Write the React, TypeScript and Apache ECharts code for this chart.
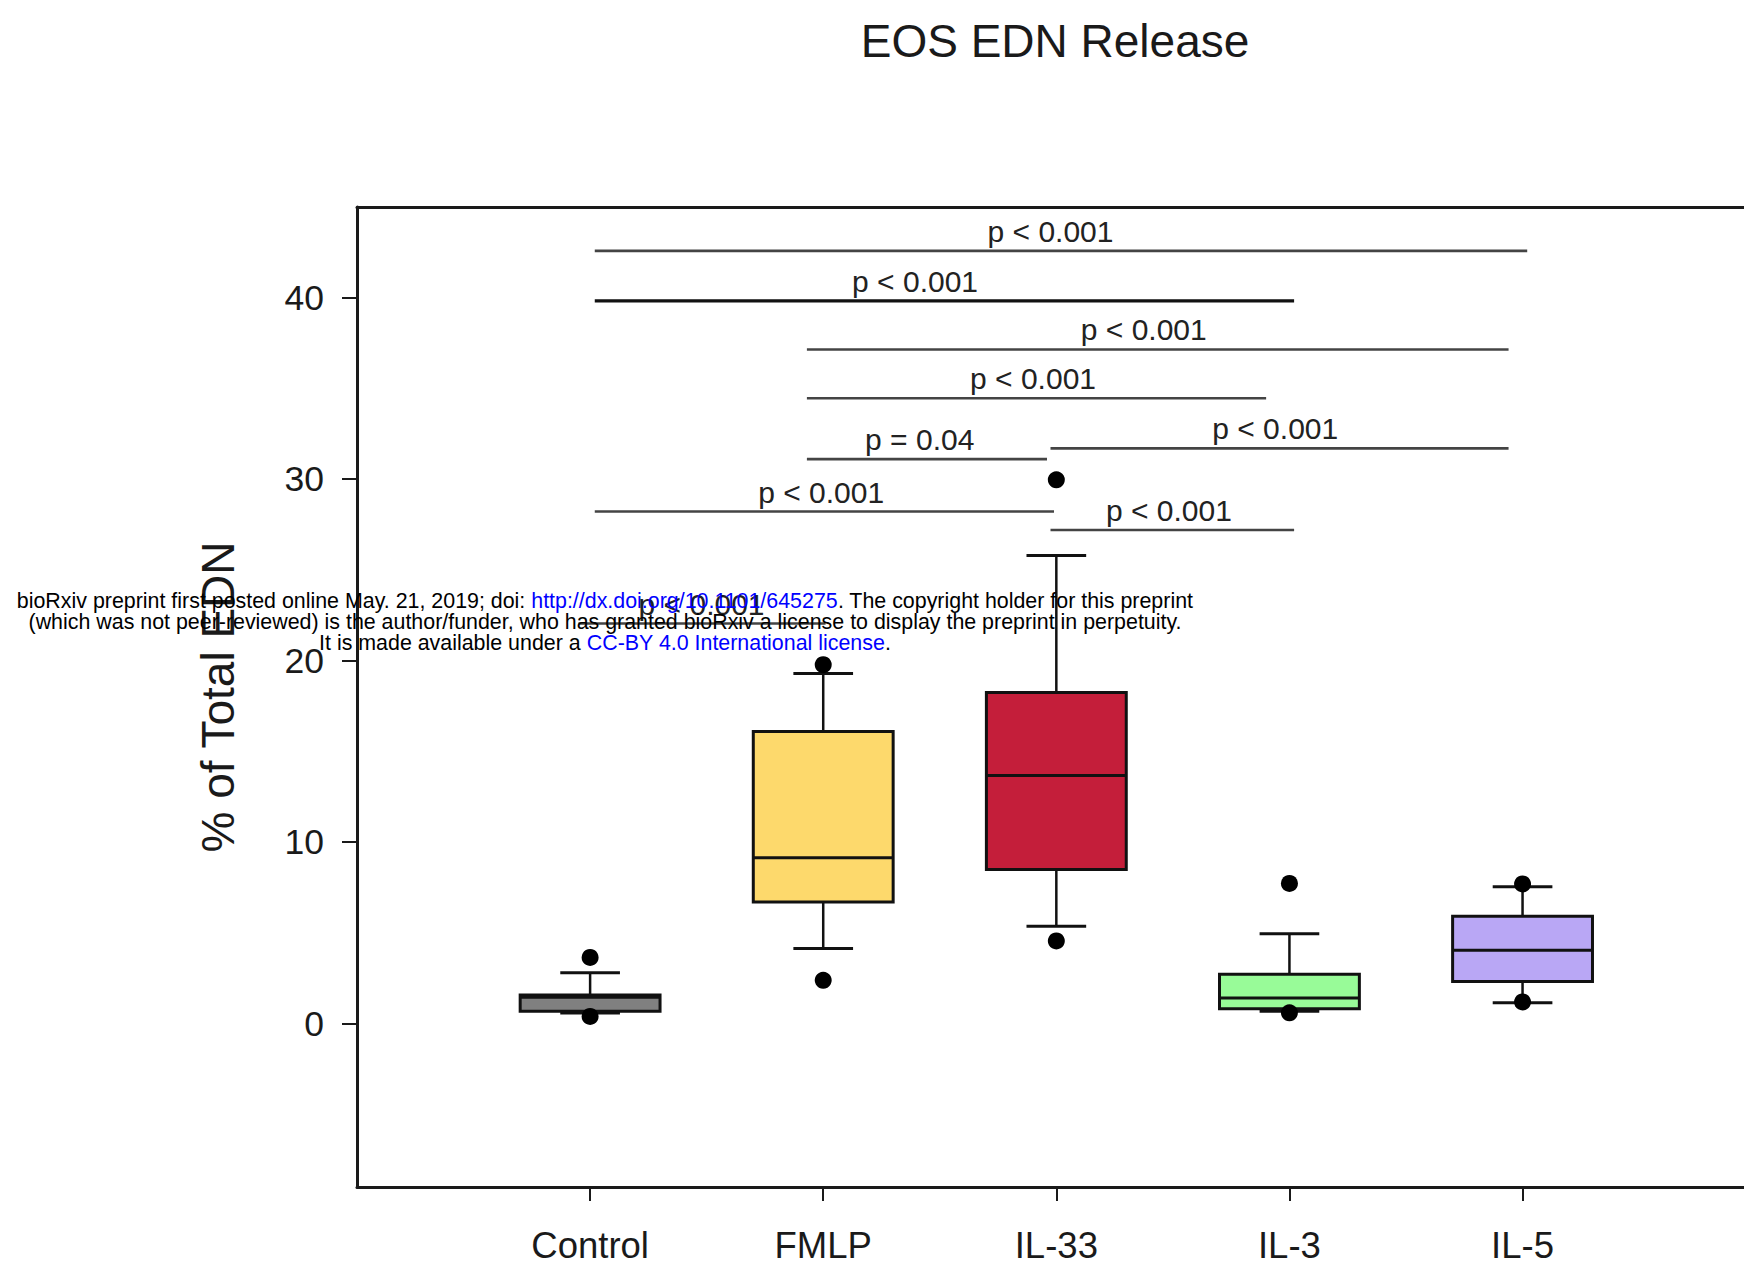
import React, { useEffect, useRef } from "react";
import * as echarts from "echarts";

// ---- data ----
const categories = ["Control", "FMLP", "IL-33", "IL-3", "IL-5"];
const whiskerLow = [0.59, 4.14, 5.37, 0.69, 1.15];
const quartile1 = [0.68, 6.71, 8.5, 0.82, 2.33];
const medians = [1.45, 9.14, 13.67, 1.41, 4.04];
const quartile3 = [1.58, 16.1, 18.25, 2.72, 5.92];
const whiskerHigh = [2.8, 19.29, 25.8, 4.96, 7.54];
const outlierHigh = [3.65, 19.78, 29.97, 7.73, 7.7];
const outlierLow = [0.4, 2.39, 4.56, 0.6, 1.2];
const yTickValues = [0, 10, 20, 30, 40];
const xTickValues = [0, 1, 2, 3, 4];

// significance brackets (x in category index units, level in % units)
const sigStart = [0.02, 0.02, 0.93, 0.93, 0.93, 1.975, 0.02, 1.975, -0.05];
const sigEnd = [4.02, 3.02, 3.94, 2.9, 1.96, 3.94, 1.99, 3.02, 1.01];
const sigLevel = [42.58, 39.83, 37.15, 34.46, 31.11, 31.7, 28.22, 27.2, 22.05];
const sigLabelX = [1.975, 1.394, 2.375, 1.9, 1.414, 2.939, 0.991, 2.483, 0.478];
const sigText = [
  "p < 0.001",
  "p < 0.001",
  "p < 0.001",
  "p < 0.001",
  "p = 0.04",
  "p < 0.001",
  "p < 0.001",
  "p < 0.001",
  "p < 0.001",
];

// ---- styles ----
const boxColors = ["#808080", "#FDD96C", "#C41E3A", "#98FB98", "#B9A7F5"];
const sigLineColors = ["#444", "#111", "#444", "#444", "#444", "#444", "#444", "#444", "#444"];
const sigLineWidths = [2.6, 3.4, 2.6, 2.6, 2.6, 2.6, 2.6, 2.6, 2.6];
const FONT = '"Liberation Sans", Arial, Helvetica, sans-serif';
const X_MIN = -1;
const X_MAX = 4.95;

export default function App() {
  const ref = useRef<HTMLDivElement>(null);

  useEffect(() => {
    if (!ref.current) return;
    const chart = echarts.init(ref.current, undefined, { renderer: "svg" });

    const boxData = categories.map((_, i) => [
      i,
      whiskerLow[i],
      quartile1[i],
      medians[i],
      quartile3[i],
      whiskerHigh[i],
    ]);
    const outlierData: number[][] = [];
    categories.forEach((_, i) => {
      outlierData.push([i, outlierHigh[i]]);
      outlierData.push([i, outlierLow[i]]);
    });
    const sigData = sigStart.map((s, i) => [s, sigEnd[i], sigLevel[i], sigLabelX[i]]);

    const boxHalf = 0.3;
    const capHalf = 0.128;
    const axisColor = "#1a1a1a";

    const option: any = {
      animation: false,
      backgroundColor: "#ffffff",
      title: {
        text: "EOS EDN Release",
        left: 1055,
        top: 18,
        padding: 0,
        textAlign: "center",
        textStyle: {
          fontFamily: FONT,
          fontSize: 46,
          fontWeight: "normal",
          color: axisColor,
        },
      },
      grid: {
        left: 357,
        top: 207,
        right: 0,
        bottom: 80,
        show: false,
      },
      xAxis: [
        {
          type: "value",
          min: X_MIN,
          max: X_MAX,
          splitLine: { show: false },
          axisLine: { show: true, onZero: false, lineStyle: { color: axisColor, width: 3 } },
          axisTick: {
            show: true,
            customValues: xTickValues,
            length: 14,
            inside: false,
            lineStyle: { color: axisColor, width: 2 },
          },
          axisLabel: {
            customValues: xTickValues,
            formatter: (v: number) => categories[Math.round(v)] ?? "",
            margin: 40,
            fontFamily: FONT,
            fontSize: 36.5,
            color: axisColor,
          },
        },
        {
          type: "value",
          position: "top",
          min: X_MIN,
          max: X_MAX,
          splitLine: { show: false },
          axisLine: { show: true, onZero: false, lineStyle: { color: axisColor, width: 3 } },
          axisTick: { show: false },
          axisLabel: { show: false },
        },
      ],
      yAxis: {
        type: "value",
        min: -9,
        max: 45,
        name: "% of Total EDN",
        nameLocation: "middle",
        nameRotate: 90,
        nameGap: 116,
        nameTextStyle: { fontFamily: FONT, fontSize: 46, color: axisColor },
        splitLine: { show: false },
        axisLine: { show: true, onZero: false, lineStyle: { color: axisColor, width: 3 } },
        axisTick: {
          show: true,
          customValues: yTickValues,
          length: 15,
          inside: false,
          lineStyle: { color: axisColor, width: 2 },
        },
        axisLabel: {
          customValues: yTickValues,
          margin: 33,
          fontFamily: FONT,
          fontSize: 35.5,
          color: axisColor,
        },
      },
      series: [
        {
          type: "custom",
          name: "boxes",
          xAxisIndex: 0,
          data: boxData,
          encode: { x: 0, y: [1, 2, 3, 4, 5] },
          z: 3,
          renderItem: (params: any, api: any) => {
            const i = params.dataIndex;
            const x = api.value(0);
            const lo = api.value(1);
            const q1 = api.value(2);
            const med = api.value(3);
            const q3 = api.value(4);
            const hi = api.value(5);
            const pLo = api.coord([x, lo]);
            const pQ1 = api.coord([x, q1]);
            const pMed = api.coord([x, med]);
            const pQ3 = api.coord([x, q3]);
            const pHi = api.coord([x, hi]);
            const bl = api.coord([x - boxHalf, q3]);
            const br = api.coord([x + boxHalf, q1]);
            const cl = api.coord([x - capHalf, lo])[0];
            const cr = api.coord([x + capHalf, lo])[0];
            const line = { stroke: "#111", lineWidth: 2.5 };
            return {
              type: "group",
              children: [
                { type: "line", shape: { x1: pQ3[0], y1: pQ3[1], x2: pHi[0], y2: pHi[1] }, style: line },
                { type: "line", shape: { x1: pLo[0], y1: pLo[1], x2: pQ1[0], y2: pQ1[1] }, style: line },
                { type: "line", shape: { x1: cl, y1: pHi[1], x2: cr, y2: pHi[1] }, style: { stroke: "#111", lineWidth: 3 } },
                { type: "line", shape: { x1: cl, y1: pLo[1], x2: cr, y2: pLo[1] }, style: { stroke: "#111", lineWidth: 3 } },
                {
                  type: "rect",
                  shape: { x: bl[0], y: bl[1], width: br[0] - bl[0], height: br[1] - bl[1] },
                  style: { fill: boxColors[i], stroke: "#111", lineWidth: 3 },
                },
                {
                  type: "line",
                  shape: { x1: bl[0], y1: pMed[1], x2: br[0], y2: pMed[1] },
                  style: { stroke: "#111", lineWidth: 3 },
                },
              ],
            };
          },
        },
        {
          type: "scatter",
          name: "outliers",
          xAxisIndex: 0,
          data: outlierData,
          symbol: "circle",
          symbolSize: 17,
          itemStyle: { color: "#000", opacity: 1 },
          z: 4,
        },
        {
          type: "custom",
          name: "significance",
          xAxisIndex: 0,
          data: sigData,
          encode: { x: [0, 1, 3], y: 2 },
          z: 2,
          renderItem: (params: any, api: any) => {
            const i = params.dataIndex;
            const a = api.coord([api.value(0), api.value(2)]);
            const b = api.coord([api.value(1), api.value(2)]);
            const t = api.coord([api.value(3), api.value(2)]);
            return {
              type: "group",
              children: [
                {
                  type: "line",
                  shape: { x1: a[0], y1: a[1], x2: b[0], y2: b[1] },
                  style: { stroke: sigLineColors[i], lineWidth: sigLineWidths[i] },
                },
                {
                  type: "text",
                  x: t[0],
                  y: t[1] - 19.5,
                  style: {
                    text: sigText[i],
                    fill: "#222",
                    fontSize: 30,
                    fontFamily: FONT,
                    align: "center",
                    verticalAlign: "middle",
                  },
                },
              ],
            };
          },
        },
      ],
      graphic: [
        {
          type: "text",
          x: 605,
          y: 601,
          z: 100,
          style: {
            text:
              "bioRxiv preprint first posted online May. 21, 2019; doi: {l|http://dx.doi.org/10.1101/645275}. The copyright holder for this preprint",
            rich: { l: { fill: "#0000ff", color: "#0000ff", fontSize: 21.4, fontFamily: FONT } },
            fill: "#000",
            fontSize: 21.4,
            fontFamily: FONT,
            align: "center",
            verticalAlign: "middle",
          },
        },
        {
          type: "text",
          x: 605,
          y: 622,
          z: 100,
          style: {
            text:
              "(which was not peer-reviewed) is the author/funder, who has granted bioRxiv a license to display the preprint in perpetuity.",
            fill: "#000",
            fontSize: 21.4,
            fontFamily: FONT,
            align: "center",
            verticalAlign: "middle",
          },
        },
        {
          type: "text",
          x: 605,
          y: 643,
          z: 100,
          style: {
            text: "It is made available under a {l|CC-BY 4.0 International license}.",
            rich: { l: { fill: "#0000ff", color: "#0000ff", fontSize: 21.4, fontFamily: FONT } },
            fill: "#000",
            fontSize: 21.4,
            fontFamily: FONT,
            align: "center",
            verticalAlign: "middle",
          },
        },
      ],
    };

    chart.setOption(option);
    return () => chart.dispose();
  }, []);

  return (
    <div
      ref={ref}
      style={{ position: "absolute", left: 0, top: 0, width: 1744, height: 1267, background: "#fff" }}
    />
  );
}
